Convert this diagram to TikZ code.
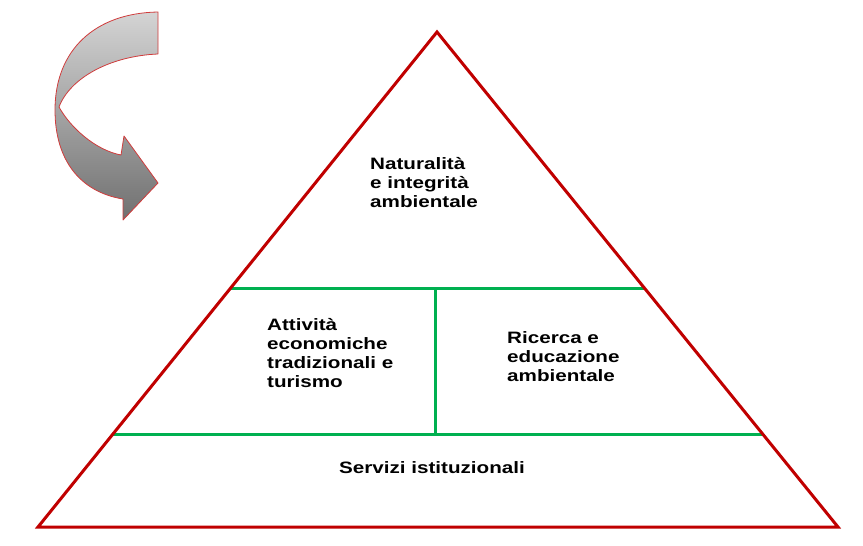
\documentclass[tikz,border=0pt]{standalone}
\usepackage{fontspec}
\newfontfamily\pyrfont[FakeStretch=1.25]{Liberation Sans}
\usetikzlibrary{calc}
\definecolor{pyrred}{RGB}{192,0,0}
\definecolor{pyrgreen}{RGB}{0,176,80}
\definecolor{arrowred}{RGB}{208,60,60}

\begin{document}
\begin{tikzpicture}[x=1pt,y=-1pt,
level/.style={
	% The text:
	anchor=north west,inner sep=0pt,align=left,
	% Font
	font=\pyrfont\bfseries\fontsize{16.5}{19}\selectfont},
border/.style={
	% The red outline of the pyramid
	draw=pyrred,line width=3pt,line join=miter},
divider/.style={
	% The green lines between the levels
	draw=pyrgreen,line width=3pt},
turn/.style={
	% The curved arrow:
	draw=arrowred,line width=0.8pt,line join=round,
	% a shading that is light at the top...
	top color={rgb,255:red,212;green,212;blue,212},
	middle color={rgb,255:red,205;green,205;blue,205},
	bottom color={rgb,255:red,112;green,112;blue,112}}]

\useasboundingbox (0,0) rectangle (863,546);

% Corners of the pyramid
\coordinate (apex) at (437,32);
\coordinate (baseL) at (38,527);
\coordinate (baseR) at (838,527);

% Ends of the dividers
\coordinate (upL) at ($(baseL)!0.481!(apex)$);
\coordinate (upR) at ($(baseR)!0.481!(apex)$);
\coordinate (lowL) at ($(baseL)!0.186!(apex)$);
\coordinate (lowR) at ($(baseR)!0.186!(apex)$);
\coordinate (midT) at (435,289);
\coordinate (midB) at (435,435);

\draw[divider] (upL) -- (upR);
\draw[divider] (lowL) -- (lowR);
\draw[divider] (midT) -- (midB);
\draw[border] (apex) -- (baseR) -- (baseL) -- cycle;

% The levels
\node (top) [level] at (370,157) {Naturalità\\
			e integrità\\
			ambientale};
\node (left) [level] at (267,318) {Attività\\
			economiche\\
			tradizionali e\\
			turismo};
\node (right) [level] at (507,331) {Ricerca e\\
			educazione\\
			ambientale};
\node (base) [level] at (339,461) {Servizi istituzionali};

% The arrow on the left
\draw[turn] (158,12) -- (158,54)
	.. controls (110,56) and (70,78) .. (59,107)
	.. controls (70,127) and (95,150) .. (121,155)
	-- (124,136) -- (158,183) -- (123,220) -- (123,199)
	.. controls (80,192) and (55,160) .. (55,110)
	.. controls (55,50) and (95,13) .. cycle;

\end{tikzpicture}
\end{document}
